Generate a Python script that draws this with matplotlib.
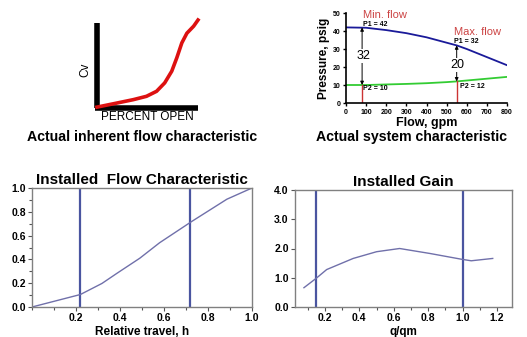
import matplotlib
matplotlib.use("Agg")
import matplotlib.pyplot as plt
from matplotlib.ticker import MultipleLocator
import numpy as np

plt.rcParams['font.family'] = ['Liberation Sans', 'DejaVu Sans']

# Inherent characteristic (percent open vs Cv, %)
inh_open = [0, 20, 36, 49, 59, 67, 74, 79, 84, 89, 95.7, 100]
inh_cv = [1, 5.7, 9.5, 13.3, 19, 28.5, 41.8, 57, 74, 85, 93, 100]

# System characteristic
flow = [0, 100, 200, 300, 400, 500, 550, 600, 700, 800]
p1 = [42, 41.8, 40.5, 38.8, 36.5, 33.5, 32, 30, 25.5, 21]
p2 = [10, 10, 10.3, 10.6, 11, 11.6, 12, 12.5, 13.5, 14.5]
min_flow, max_flow = 80, 550
p1_min, p2_min, p1_max, p2_max = 42, 10, 32, 12

# Installed flow characteristic
travel = [0, 0.22, 0.318, 0.386, 0.49, 0.58, 0.727, 0.886, 1.0]
rel_flow = [0, 0.105, 0.198, 0.283, 0.41, 0.54, 0.72, 0.906, 1.0]
travel_lines = [0.22, 0.72]

# Installed gain
qqm = [0.078, 0.151, 0.21, 0.364, 0.50, 0.634, 0.81, 0.996, 1.05, 1.175]
gain = [0.66, 0.99, 1.28, 1.66, 1.89, 2.0, 1.83, 1.63, 1.58, 1.66]
gain_lines = [0.15, 1.0]

W, H = 527, 337
fig = plt.figure(figsize=(W / 100, H / 100), dpi=100)

def rect(l, t, r, b):
    return [l / W, 1 - b / H, (r - l) / W, (b - t) / H]

# ---- top-left: inherent characteristic
ax1 = fig.add_axes(rect(97, 20, 198, 108))
ax1.set_xlim(0, 100)
ax1.set_ylim(0, 100)
ax1.axis('off')
ax1.plot([0, 0], [0, 97], color='black', lw=4, solid_capstyle='butt', clip_on=False)
ax1.plot([-1.5, 100], [0, 0], color='black', lw=4, solid_capstyle='butt', clip_on=False)
ax1.plot(inh_open, inh_cv, color='#dd1111', lw=2.6, clip_on=False)
fig.text(85 / W, 1 - 70 / H, 'Cv', rotation=90, ha='center', va='center', fontsize=8.5)
fig.text(147 / W, 1 - 117 / H, 'PERCENT OPEN', ha='center', va='center', fontsize=8.5)
fig.text(142 / W, 1 - 137 / H, 'Actual inherent flow characteristic', ha='center', va='center',
         fontsize=10.2, fontweight='bold')

# ---- top-right: system characteristic
ax2 = fig.add_axes(rect(346, 13, 507, 103))
ax2.set_xlim(0, 800)
ax2.set_ylim(0, 50)
for s in ['top', 'right']:
    ax2.spines[s].set_visible(False)
for s in ['left', 'bottom']:
    ax2.spines[s].set_linewidth(1.2)
ax2.set_xticks(range(0, 801, 100))
ax2.set_yticks(range(0, 51, 10))
ax2.tick_params(labelsize=5, length=2, width=1, pad=2)
for lab in ax2.get_xticklabels() + ax2.get_yticklabels():
    lab.set_fontweight('bold')
ax2.plot(flow, p1, color='#1a1a99', lw=1.3)
ax2.plot(flow, p2, color='#33cc33', lw=1.3)
ax2.plot([min_flow, min_flow], [0, p2_min], color='#cc3333', lw=1.0)
ax2.plot([max_flow, max_flow], [0, p2_max], color='#cc3333', lw=1.0)
arrow = dict(arrowstyle='<|-|>', color='black', lw=0.7, mutation_scale=5, shrinkA=0, shrinkB=0)
ax2.annotate('', xy=(min_flow, p1_min), xytext=(min_flow, p2_min), arrowprops=arrow)
ax2.annotate('', xy=(max_flow, p1_max), xytext=(max_flow, p2_max), arrowprops=arrow)
ax2.text(min_flow + 5, (p1_min + p2_min) / 2, str(p1_min - p2_min), ha='center', va='center', fontsize=9,
         bbox=dict(facecolor='white', edgecolor='none', pad=0.5))
ax2.text(max_flow + 5, 21, str(p1_max - p2_max), ha='center', va='center', fontsize=9,
         bbox=dict(facecolor='white', edgecolor='none', pad=0.5))
ax2.text(min_flow + 5, 43.6, 'P1 = 42', fontsize=5, fontweight='bold', va='center')
ax2.text(min_flow + 5, 8.0, 'P2 = 10', fontsize=5, fontweight='bold', va='center')
ax2.text(max_flow - 12, 34.0, 'P1 = 32', fontsize=5, fontweight='bold', va='center')
ax2.text(max_flow + 15, 9.4, 'P2 = 12', fontsize=5, fontweight='bold', va='center')
ax2.text(min_flow + 5, 49.0, 'Min. flow', color='#cc4444', fontsize=8, va='center')
ax2.text(max_flow - 12, 39.6, 'Max. flow', color='#cc4444', fontsize=8, va='center')
ax2.set_ylabel('Pressure, psig', fontsize=8.5, fontweight='bold', labelpad=2)
ax2.set_xlabel('Flow, gpm', fontsize=9, fontweight='bold', labelpad=1)
fig.text(411 / W, 1 - 137 / H, 'Actual system characteristic', ha='center', va='center',
         fontsize=10.2, fontweight='bold')

frame_col = '#808080'
line_col = '#4a55a0'
curve_col = '#7070aa'

def style(ax):
    for s in ax.spines.values():
        s.set_color(frame_col)
        s.set_linewidth(1.0)
    ax.tick_params(which='both', color='#555555', labelsize=7.5, length=3, width=0.8, pad=1.5)
    ax.tick_params(which='minor', length=2)
    for lab in ax.get_xticklabels() + ax.get_yticklabels():
        lab.set_fontweight('bold')

# ---- bottom-left: installed flow characteristic
ax3 = fig.add_axes(rect(32, 188, 252, 307))
ax3.set_xlim(0, 1.0)
ax3.set_ylim(0, 1.0)
ax3.set_xticks([0.2, 0.4, 0.6, 0.8, 1.0])
ax3.set_xticklabels(['0.2', '0.4', '0.6', '0.8', '1.0'])
ax3.set_yticks([0, 0.2, 0.4, 0.6, 0.8, 1.0])
ax3.set_yticklabels(['0.0', '0.2', '0.4', '0.6', '0.8', '1.0'])
ax3.xaxis.set_minor_locator(MultipleLocator(0.1))
ax3.yaxis.set_minor_locator(MultipleLocator(0.1))
style(ax3)
for xv in travel_lines:
    ax3.axvline(xv, color=line_col, lw=1.6)
ax3.plot(travel, rel_flow, color=curve_col, lw=1.0)
ax3.set_title('Installed  Flow Characteristic', fontsize=11, fontweight='bold', pad=3)
ax3.set_xlabel('Relative travel, h', fontsize=8.5, fontweight='bold', labelpad=2)

# ---- bottom-right: installed gain
ax4 = fig.add_axes(rect(295, 190, 512, 307))
ax4.set_xlim(0.026, 1.287)
ax4.set_ylim(0, 4.0)
ax4.set_xticks([0.2, 0.4, 0.6, 0.8, 1.0, 1.2])
ax4.set_xticklabels(['0.2', '0.4', '0.6', '0.8', '1.0', '1.2'])
ax4.set_yticks([0, 1, 2, 3, 4])
ax4.set_yticklabels(['0.0', '1.0', '2.0', '3.0', '4.0'])
ax4.xaxis.set_minor_locator(MultipleLocator(0.1))
style(ax4)
for xv in gain_lines:
    ax4.axvline(xv, color=line_col, lw=1.6)
ax4.plot(qqm, gain, color=curve_col, lw=1.0)
ax4.set_title('Installed Gain', fontsize=11, fontweight='bold', pad=3)
ax4.set_xlabel('q/qm', fontsize=8.5, fontweight='bold', labelpad=2)

fig.savefig('out.png', dpi=100)
